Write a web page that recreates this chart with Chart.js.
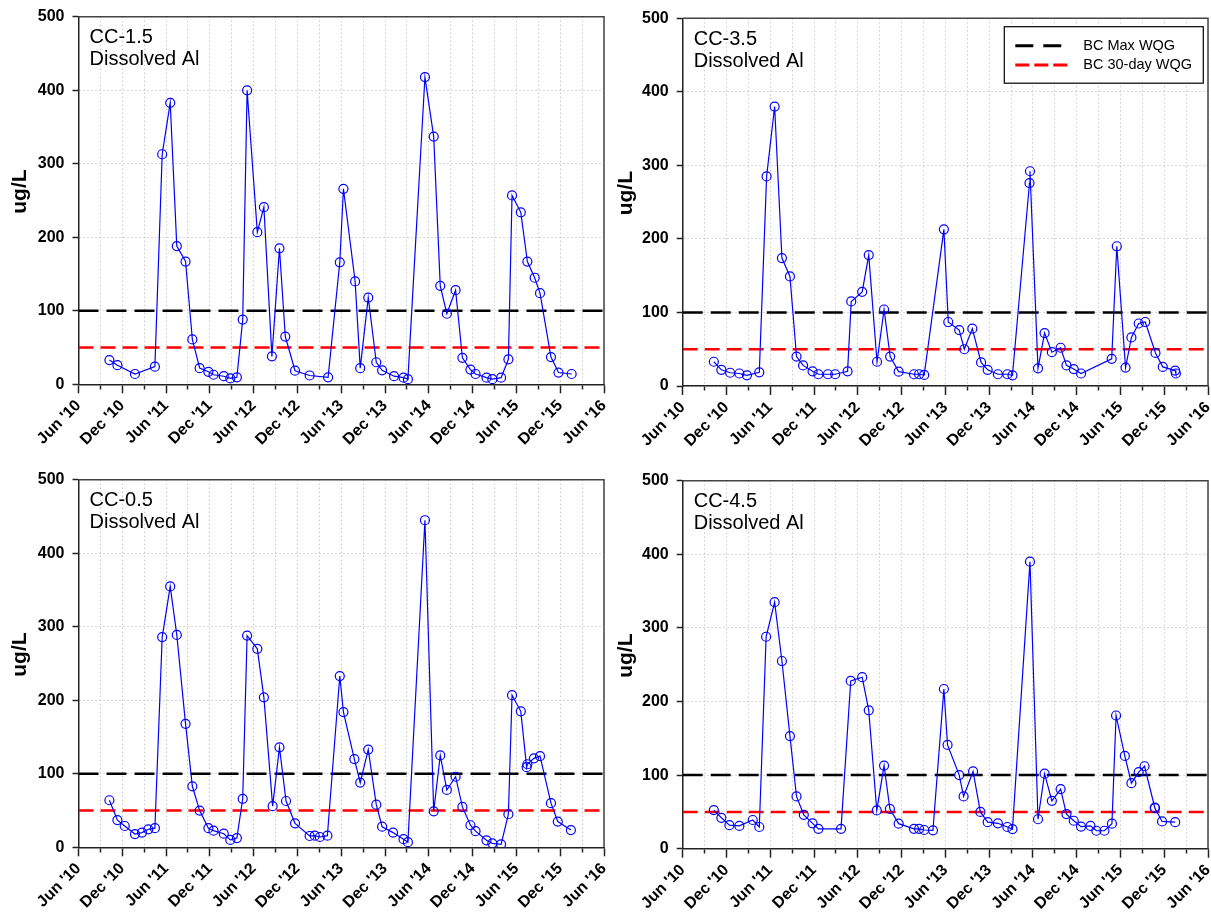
<!DOCTYPE html>
<html>
<head>
<meta charset="utf-8">
<script src="https://cdn.jsdelivr.net/npm/chart.js@4.4.0/dist/chart.umd.min.js"></script>
<style>
  html, body { margin: 0; padding: 0; background: #fff; overflow: hidden; }
  canvas { position: absolute; }
</style>
</head>
<body>
<canvas id="cc15" width="606" height="462" style="left:0px;top:0px"></canvas>
<canvas id="cc35" width="605" height="462" style="left:606px;top:0px"></canvas>
<canvas id="cc05" width="606" height="462" style="left:0px;top:462px"></canvas>
<canvas id="cc45" width="605" height="462" style="left:606px;top:462px"></canvas>
<script>
// x axis runs Jun 2010 .. Jun 2016, labels every 6 months
const tickLabels = ["Jun '10", "Dec '10", "Jun '11", "Dec '11", "Jun '12", "Dec '12", "Jun '13",
  "Dec '13", "Jun '14", "Dec '14", "Jun '15", "Dec '15", "Jun '16"];

// BC guideline values (ug/L)
const maxWQG = 100;
const thirtyDayWQG = 50;

// CC-1.5
const cc15Dates = ['2010-10-08','2010-11-11','2011-01-23','2011-04-15','2011-05-15','2011-06-18','2011-07-15',
  '2011-08-21','2011-09-19','2011-10-19','2011-11-25','2011-12-16','2012-01-28','2012-02-25','2012-03-22',
  '2012-04-16','2012-05-04','2012-06-16','2012-07-13','2012-08-16','2012-09-17','2012-10-11','2012-11-21',
  '2013-01-21','2013-04-07','2013-05-25','2013-06-10','2013-07-28','2013-08-19','2013-09-22','2013-10-25',
  '2013-11-19','2014-01-08','2014-02-17','2014-03-05','2014-05-15','2014-06-21','2014-07-18','2014-08-15',
  '2014-09-21','2014-10-19','2014-11-22','2014-12-13','2015-01-28','2015-02-22','2015-03-28','2015-04-28',
  '2015-05-13','2015-06-19','2015-07-16','2015-08-16','2015-09-08','2015-10-23','2015-11-24','2016-01-18'];
const cc15Al = [33, 26, 14, 24, 313, 383, 188, 167, 61, 22, 17, 13, 11, 8, 9.5, 88, 400, 207, 241, 38,
  185, 65, 18.5, 12, 9.5, 166, 266, 140, 22, 118, 30, 19, 11, 9, 7, 418, 337, 134, 96, 128,
  36, 20, 14, 9, 7, 9, 34, 257, 234, 167, 145, 124, 37, 16, 14];

// CC-3.5
const cc35Dates = ['2010-10-09','2010-11-10','2010-12-16','2011-01-24','2011-02-25','2011-04-16','2011-05-16',
  '2011-06-19','2011-07-19','2011-08-22','2011-09-19','2011-10-16','2011-11-25','2011-12-19','2012-01-28',
  '2012-02-28','2012-04-19','2012-05-04','2012-06-19','2012-07-16','2012-08-20','2012-09-19','2012-10-14',
  '2012-11-19','2013-01-22','2013-02-13','2013-03-04','2013-05-25','2013-06-13','2013-07-28','2013-08-19',
  '2013-09-22','2013-10-28','2013-11-25','2014-01-07','2014-02-16','2014-03-07','2014-05-17','2014-05-19',
  '2014-06-22','2014-07-19','2014-08-19','2014-09-25','2014-10-19','2014-11-19','2014-12-19','2015-04-25',
  '2015-05-16','2015-06-22','2015-07-16','2015-08-16','2015-09-13','2015-10-25','2015-11-25','2016-01-16',
  '2016-01-19'];
const cc35Al = [33, 22, 18, 17, 14.5, 18.6, 285, 380, 174, 149, 40, 28, 20, 16, 16, 16, 20, 115, 128, 178,
  33, 104, 40, 19.5, 16, 16, 15, 213, 87, 76, 50, 78, 32, 22, 16, 16, 14.5, 276, 292, 24,
  72, 46, 52, 28, 23, 17, 37, 190, 25, 66, 85, 87, 45, 26, 21, 17];

// CC-0.5
const cc05Dates = ['2010-10-08','2010-11-11','2010-12-11','2011-01-23','2011-02-22','2011-03-18','2011-04-15',
  '2011-05-15','2011-06-18','2011-07-15','2011-08-21','2011-09-19','2011-10-19','2011-11-25','2011-12-16',
  '2012-01-28','2012-02-25','2012-03-22','2012-04-16','2012-05-04','2012-06-16','2012-07-13','2012-08-19',
  '2012-09-17','2012-10-14','2012-11-21','2013-01-21','2013-02-12','2013-03-03','2013-04-04','2013-05-25',
  '2013-06-10','2013-07-25','2013-08-19','2013-09-22','2013-10-25','2013-11-19','2014-01-04','2014-02-17',
  '2014-03-05','2014-05-15','2014-06-21','2014-07-18','2014-08-15','2014-09-21','2014-10-19','2014-11-22',
  '2014-12-13','2015-01-28','2015-02-22','2015-03-28','2015-04-28','2015-05-13','2015-06-19','2015-07-13',
  '2015-07-16','2015-08-13','2015-09-08','2015-10-23','2015-11-21','2016-01-15'];
const cc05Al = [64, 37, 29, 18, 20, 24.5, 26, 286, 355, 289, 168, 83, 50, 26, 22.6, 18.5, 10, 12.6, 66, 288,
  270, 204, 56, 136, 63, 32.6, 15.4, 15.8, 14, 15.8, 233, 184, 120, 88, 133, 58, 28, 20, 11, 7,
  445, 49, 125, 78, 96, 55, 30, 22, 9.5, 5.4, 4, 45, 207, 185, 109, 113, 121, 124, 60, 35, 23.5];

// CC-4.5
const cc45Dates = ['2010-10-09','2010-11-10','2010-12-13','2011-01-24','2011-03-19','2011-04-16','2011-05-14',
  '2011-06-19','2011-07-19','2011-08-22','2011-09-19','2011-10-19','2011-11-25','2011-12-19','2012-03-22',
  '2012-05-02','2012-06-19','2012-07-16','2012-08-19','2012-09-19','2012-10-13','2012-11-19','2013-01-22',
  '2013-02-13','2013-03-04','2013-04-10','2013-05-25','2013-06-10','2013-07-28','2013-08-16','2013-09-25',
  '2013-10-25','2013-11-25','2014-01-07','2014-02-16','2014-03-07','2014-05-19','2014-06-22','2014-07-19',
  '2014-08-19','2014-09-25','2014-10-19','2014-11-19','2014-12-19','2015-01-28','2015-02-22','2015-03-25',
  '2015-04-26','2015-05-13','2015-06-19','2015-07-16','2015-08-16','2015-09-10','2015-10-22','2015-10-23',
  '2015-11-22','2016-01-16'];
const cc45Al = [52.5, 42, 32, 31, 39, 29.5, 288, 335, 255, 153, 71, 46, 34.5, 27, 27, 228, 233, 188, 52, 113,
  54, 34, 27, 27, 25.4, 25, 217, 141, 100, 71, 105, 50, 36, 34.5, 29.5, 26.7, 390, 40, 102, 65,
  81, 47, 38, 30, 31, 24.4, 24.4, 34, 181, 126, 89, 104, 112, 56, 55, 37, 36];

const FONT = '"Liberation Sans", Arial, sans-serif';

// months since 1 Jun 2010
function monthsSinceStart(s) {
  const [y, m, d] = s.split('-').map(Number);
  return (y - 2010) * 12 + (m - 6) + (d - 1) / 30;
}

// frame on top/right, y title, station label, optional legend box
const panelText = {
  id: 'panelText',
  afterDraw(chart, args, opts) {
    const { ctx, chartArea: a } = chart;
    ctx.save();
    ctx.strokeStyle = '#444';
    ctx.lineWidth = 1.5;
    ctx.beginPath();
    ctx.moveTo(a.left, a.top);
    ctx.lineTo(a.right, a.top);
    ctx.lineTo(a.right, a.bottom);
    ctx.stroke();

    // y axis title
    ctx.save();
    ctx.translate(20, (a.top + a.bottom) / 2 - 9);
    ctx.rotate(-Math.PI / 2);
    ctx.fillStyle = '#000';
    ctx.font = 'bold 21px ' + FONT;
    ctx.textAlign = 'center';
    ctx.textBaseline = 'middle';
    ctx.fillText('ug/L', 0, 0);
    ctx.restore();

    ctx.fillStyle = '#000';
    ctx.font = '20px ' + FONT;
    ctx.textAlign = 'left';
    ctx.textBaseline = 'alphabetic';
    ctx.fillText(opts.station, a.left + 11, a.top + 26.5);
    ctx.fillText('Dissolved Al', a.left + 11, a.top + 48.2);

    if (opts.legend) {
      const w = 199, h = 56.5;
      const bx = a.right - 4.7 - w, by = a.top + 8.4;
      ctx.fillStyle = '#fff';
      ctx.fillRect(bx, by, w, h);
      ctx.strokeStyle = '#000';
      ctx.lineWidth = 1.2;
      ctx.strokeRect(bx, by, w, h);
      ctx.font = '14.5px ' + FONT;
      ctx.textBaseline = 'middle';
      const samples = [{ dash: [18, 10], len: 47 }, { dash: [14, 5], len: 52 }];
      [1, 2].forEach((di, k) => {
        const ds = chart.data.datasets[di];
        const ly = by + 19 + k * 19.3;
        ctx.strokeStyle = ds.borderColor;
        ctx.lineWidth = 3;
        ctx.setLineDash(samples[k].dash);
        ctx.beginPath();
        ctx.moveTo(bx + 11, ly);
        ctx.lineTo(bx + 11 + samples[k].len, ly);
        ctx.stroke();
        ctx.setLineDash([]);
        ctx.fillStyle = '#000';
        ctx.fillText(ds.label, bx + 79, ly);
      });
    }
    ctx.restore();
  }
};

function makePanel(id, station, dates, values, plot, legend) {
  const canvas = document.getElementById(id);
  const W = canvas.width, H = canvas.height;
  const gridColor = '#b4b4b4';
  return new Chart(canvas, {
    type: 'line',
    data: {
      datasets: [
        {
          label: station,
          data: dates.map((d, i) => ({ x: monthsSinceStart(d), y: values[i] })),
          borderColor: '#0000ff',
          borderWidth: 1.2,
          pointRadius: 4.5,
          pointBorderWidth: 1.2,
          pointBackgroundColor: 'rgba(0,0,0,0)',
          pointBorderColor: '#0000ff',
          tension: 0
        },
        {
          label: 'BC Max WQG',
          data: [{ x: 0, y: maxWQG }, { x: 72, y: maxWQG }],
          borderColor: '#000000',
          borderWidth: 2.5,
          borderDash: [20, 8],
          pointRadius: 0
        },
        {
          label: 'BC 30-day WQG',
          data: [{ x: 0, y: thirtyDayWQG }, { x: 72, y: thirtyDayWQG }],
          borderColor: '#ff0000',
          borderWidth: 2.5,
          borderDash: [15, 7],
          pointRadius: 0
        }
      ]
    },
    options: {
      responsive: false,
      animation: false,
      devicePixelRatio: 1,
      events: [],
      layout: {
        autoPadding: false,
        padding: { top: plot.top, right: W - plot.right, bottom: 0, left: 0 }
      },
      plugins: {
        legend: { display: false },
        tooltip: { enabled: false },
        panelText: { station: station, legend: legend }
      },
      scales: {
        x: {
          type: 'linear',
          min: 0,
          max: 72,
          ticks: {
            stepSize: 3,
            maxTicksLimit: 40,
            autoSkip: false,
            minRotation: 45,
            maxRotation: 45,
            padding: 3,
            color: '#000',
            font: { family: FONT, size: 16, weight: 'bold' },
            callback: v => (v % 6 === 0 ? tickLabels[v / 6] : '')
          },
          grid: {
            color: gridColor,
            lineWidth: 1,
            tickLength: 9,
            tickColor: '#222',
            tickWidth: 1.5,
            tickBorderDash: c => (c.tick && c.tick.value % 6 !== 0 ? [4, 40] : [])
          },
          border: { color: '#222', width: 1.5, dash: [1, 3] },
          afterFit(s) {
            s.height = H - plot.bottom;
            s.paddingLeft = 0;
            s.paddingRight = 0;
          }
        },
        y: {
          min: 0,
          max: 500,
          ticks: {
            stepSize: 100,
            padding: 8,
            color: '#000',
            font: { family: FONT, size: 16, weight: 'bold' }
          },
          grid: {
            color: gridColor,
            lineWidth: 1,
            tickLength: 6,
            tickColor: '#222',
            tickWidth: 1.5,
            tickBorderDash: []
          },
          border: { color: '#222', width: 1.5, dash: [1, 3] },
          afterFit(s) {
            s.width = plot.left;
            s.paddingTop = 0;
            s.paddingBottom = 0;
          }
        }
      }
    },
    plugins: [panelText]
  });
}

makePanel('cc15', 'CC-1.5', cc15Dates, cc15Al, { left: 78.5, top: 16.8, right: 604, bottom: 384.3 }, false);
makePanel('cc35', 'CC-3.5', cc35Dates, cc35Al, { left: 76.7, top: 18.3, right: 602, bottom: 386 }, true);
makePanel('cc05', 'CC-0.5', cc05Dates, cc05Al, { left: 78.5, top: 17.8, right: 604, bottom: 385.3 }, false);
makePanel('cc45', 'CC-4.5', cc45Dates, cc45Al, { left: 76.7, top: 18.7, right: 602, bottom: 386.7 }, false);
</script>
</body>
</html>
